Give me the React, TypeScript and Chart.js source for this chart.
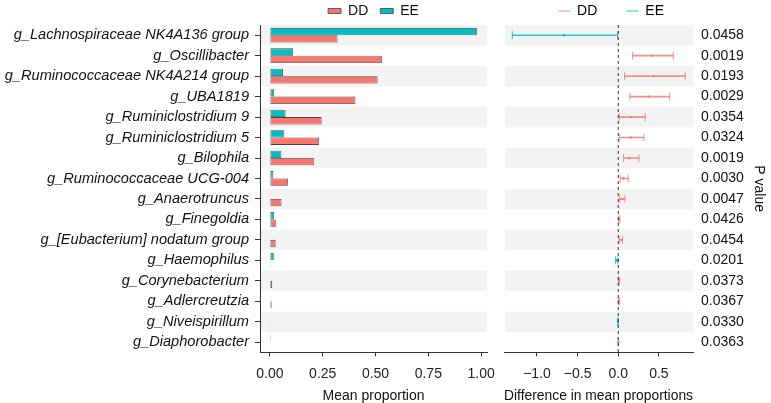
import React, { useEffect, useRef } from "react";
import { Chart, registerables } from "chart.js";

Chart.register(...registerables);

const categories = [
  "g_Lachnospiraceae NK4A136 group",
  "g_Oscillibacter",
  "g_Ruminococcaceae NK4A214 group",
  "g_UBA1819",
  "g_Ruminiclostridium 9",
  "g_Ruminiclostridium 5",
  "g_Bilophila",
  "g_Ruminococcaceae UCG-004",
  "g_Anaerotruncus",
  "g_Finegoldia",
  "g_[Eubacterium] nodatum group",
  "g_Haemophilus",
  "g_Corynebacterium",
  "g_Adlercreutzia",
  "g_Niveispirillum",
  "g_Diaphorobacter",
];

const ddMean = [0.32, 0.53, 0.51, 0.405, 0.245, 0.232, 0.21, 0.085, 0.055, 0.03, 0.027, 0.001, 0.011, 0.008, 0.001, 0.0015];
const eeMean = [0.98, 0.11, 0.062, 0.02, 0.074, 0.068, 0.054, 0.016, 0.003, 0.02, 0.002, 0.018, 0.002, 0.001, 0.002, 0.0005];

const diffMean = [-0.668, 0.41, 0.435, 0.374, 0.156, 0.152, 0.136, 0.062, 0.05, 0.01, 0.028, -0.017, 0.009, 0.007, -0.004, 0.001];
const diffLow = [-1.304, 0.177, 0.078, 0.144, 0.012, 0.012, 0.066, 0.025, 0.017, 0.002, 0.012, -0.032, 0.002, 0.001, -0.008, 0.0002];
const diffHigh = [-0.007, 0.677, 0.824, 0.632, 0.332, 0.316, 0.255, 0.123, 0.082, 0.02, 0.054, -0.004, 0.017, 0.014, -0.001, 0.002];

const pValues = ["0.0458", "0.0019", "0.0193", "0.0029", "0.0354", "0.0324", "0.0019", "0.0030", "0.0047", "0.0426", "0.0454", "0.0201", "0.0373", "0.0367", "0.0330", "0.0363"];

const leftTicks = [0, 0.25, 0.5, 0.75, 1.0];
const rightTicks = [-1.0, -0.5, 0.0, 0.5];

const DD_COLOR = "#F8766D";
const EE_COLOR = "#00BFC4";
const DD_LINE = "rgba(248,118,109,0.8)";
const EE_LINE = "rgba(0,191,196,0.85)";
const STRIPE = "#f3f3f3";
const FONT = "'Liberation Sans', Arial, Helvetica, sans-serif";

const stripePlugin = {
  id: "stripes",
  beforeDatasetsDraw(chart: any) {
    const { ctx, chartArea } = chart;
    const y = chart.scales.y;
    const n = y.getLabels().length;
    const band = (y.bottom - y.top) / n;
    ctx.save();
    ctx.fillStyle = STRIPE;
    for (let i = 0; i < n; i += 2) {
      const c = y.getPixelForValue(i);
      ctx.fillRect(chartArea.left + 1, c - band / 2, chartArea.right - chartArea.left - 1, band);
    }
    ctx.restore();
  },
};

const zeroLinePlugin = {
  id: "zeroLine",
  afterDatasetsDraw(chart: any) {
    const { ctx, chartArea } = chart;
    const x0 = chart.scales.x.getPixelForValue(0);
    ctx.save();
    ctx.strokeStyle = "#333";
    ctx.lineWidth = 1;
    ctx.setLineDash([3, 3]);
    ctx.beginPath();
    ctx.moveTo(x0, chartArea.top);
    ctx.lineTo(x0, chartArea.bottom);
    ctx.stroke();
    ctx.restore();
  },
};

function fmtSigned(v: number) {
  return v < 0 ? "\u2212" + Math.abs(v).toFixed(1) : v.toFixed(1);
}

export default function App() {
  const leftRef = useRef<HTMLCanvasElement>(null);
  const rightRef = useRef<HTMLCanvasElement>(null);

  useEffect(() => {
    const tickFont = { family: FONT, size: 14 };
    const xTitleFont = { family: FONT, size: 14 };
    const legendFont = { family: FONT, size: 14 };
    const noSidePad = (s: any) => {
      s.paddingLeft = 0;
      s.paddingRight = 0;
    };

    const left = new Chart(leftRef.current!, {
      type: "bar",
      data: {
        labels: categories,
        datasets: [
          {
            label: "EE",
            data: eeMean,
            backgroundColor: EE_COLOR,
            borderColor: "#444",
            borderWidth: 0.8,
            borderSkipped: false,
          },
          {
            label: "DD",
            data: ddMean,
            backgroundColor: DD_COLOR,
            borderColor: "#444",
            borderWidth: 0.8,
            borderSkipped: false,
          },
        ],
      },
      options: {
        indexAxis: "y",
        animation: false,
        responsive: false,
        devicePixelRatio: 1,
        layout: { padding: { left: 4, right: 8, top: -8, bottom: -2 } },
        datasets: { bar: { categoryPercentage: 0.72, barPercentage: 1.0 } },
        scales: {
          x: {
            type: "linear",
            min: -0.047,
            max: 1.028,
            afterBuildTicks: (s: any) => {
              s.ticks = leftTicks.map((v) => ({ value: v }));
            },
            afterFit: noSidePad,
            ticks: {
              font: tickFont,
              color: "#222",
              padding: 9,
              autoSkip: false,
              maxRotation: 0,
              callback: (v: any) => Number(v).toFixed(2),
            },
            grid: { drawOnChartArea: false, drawTicks: true, tickLength: 4, color: "#333" },
            border: { display: true, color: "#333", width: 1 },
            title: { display: true, text: "Mean proportion", font: xTitleFont, color: "#111", padding: { top: -3, bottom: 0 } },
          },
          y: {
            type: "category",
            offset: true,
            afterFit: (s: any) => {
              s.width = 256;
            },
            ticks: { font: { family: FONT, size: 14.6, style: "italic" }, color: "#111", padding: 6, autoSkip: false },
            grid: { offset: false, drawOnChartArea: false, drawTicks: true, tickLength: 5, color: "#333" },
            border: { display: true, color: "#333", width: 1 },
          },
        },
        plugins: {
          legend: {
            display: true,
            position: "top",
            fullSize: false,
            reverse: true,
            maxHeight: 33,
            labels: { font: legendFont, color: "#111", boxWidth: 13, boxHeight: 5, padding: 12 },
          },
          tooltip: { enabled: false },
        },
      } as any,
      plugins: [stripePlugin],
    });

    const isDD = (i: number) => diffMean[i] >= 0;
    const ciDD = diffMean.map((_, i) => (isDD(i) ? [diffLow[i], diffHigh[i]] : null));
    const ciEE = diffMean.map((_, i) => (!isDD(i) ? [diffLow[i], diffHigh[i]] : null));
    const capsDD: any[] = [];
    const capsEE: any[] = [];
    const ctrDD: any[] = [];
    const ctrEE: any[] = [];
    categories.forEach((c, i) => {
      const caps = isDD(i) ? capsDD : capsEE;
      const ctr = isDD(i) ? ctrDD : ctrEE;
      caps.push({ x: diffLow[i], y: c }, { x: diffHigh[i], y: c });
      ctr.push({ x: diffMean[i], y: c });
    });

    const capStyle = (color: string) => ({
      type: "scatter",
      pointStyle: "line",
      rotation: 90,
      radius: 4,
      borderColor: color,
      backgroundColor: color,
      borderWidth: 1,
      xAxisID: "x",
      yAxisID: "y",
    });
    const ctrStyle = (color: string) => ({
      type: "scatter",
      pointStyle: "circle",
      radius: 1.2,
      borderWidth: 0,
      backgroundColor: color,
      borderColor: color,
      xAxisID: "x",
      yAxisID: "y",
    });

    const right = new Chart(rightRef.current!, {
      type: "bar",
      data: {
        labels: categories,
        datasets: [
          { label: "DD", data: ciDD, backgroundColor: DD_LINE, barThickness: 1, grouped: false, borderWidth: 0, xAxisID: "x", yAxisID: "y" },
          { label: "EE", data: ciEE, backgroundColor: EE_LINE, barThickness: 1, grouped: false, borderWidth: 0, xAxisID: "x", yAxisID: "y" },
          { label: "DDcap", data: capsDD, ...capStyle(DD_LINE) },
          { label: "EEcap", data: capsEE, ...capStyle(EE_LINE) },
          { label: "DDctr", data: ctrDD, ...ctrStyle(DD_COLOR) },
          { label: "EEctr", data: ctrEE, ...ctrStyle(EE_COLOR) },
        ] as any,
      },
      options: {
        indexAxis: "y",
        animation: false,
        responsive: false,
        devicePixelRatio: 1,
        layout: { padding: { left: 9, right: 0, top: -25, bottom: -2 } },
        scales: {
          x: {
            type: "linear",
            min: -1.406,
            max: 0.92,
            afterBuildTicks: (s: any) => {
              s.ticks = rightTicks.map((v) => ({ value: v }));
            },
            afterFit: noSidePad,
            ticks: { font: tickFont, color: "#222", padding: 9, autoSkip: false, maxRotation: 0, callback: (v: any) => fmtSigned(Number(v)) },
            grid: { drawOnChartArea: false, drawTicks: true, tickLength: 4, color: "#333" },
            border: { display: true, color: "#333", width: 1 },
            title: { display: true, text: "Difference in mean proportions", font: xTitleFont, color: "#111", padding: { top: -3, bottom: 0 } },
          },
          y: {
            type: "category",
            offset: true,
            display: false,
          },
          yp: {
            type: "category",
            position: "right",
            labels: pValues,
            offset: true,
            afterFit: (s: any) => {
              s.width = 78;
            },
            ticks: { font: { family: FONT, size: 14 }, color: "#111", padding: 8, autoSkip: false },
            grid: { display: false, drawTicks: false },
            border: { display: false },
            title: { display: true, text: "P value", font: { family: FONT, size: 14 }, color: "#111", padding: { top: 3.5, bottom: 0 } },
          },
        },
        plugins: {
          legend: {
            display: true,
            position: "top",
            fullSize: false,
            align: "end",
            maxHeight: 50,
            labels: {
              font: legendFont,
              color: "#111",
              usePointStyle: true,
              pointStyleWidth: 12,
              padding: 29,
              generateLabels: () => [
                { text: "DD", fillStyle: DD_LINE, strokeStyle: DD_LINE, lineWidth: 1, pointStyle: "line", datasetIndex: 0, hidden: false },
                { text: "EE", fillStyle: EE_LINE, strokeStyle: EE_LINE, lineWidth: 1, pointStyle: "line", datasetIndex: 1, hidden: false },
              ],
            },
          },
          tooltip: { enabled: false },
        },
      } as any,
      plugins: [stripePlugin, zeroLinePlugin],
    });

    return () => {
      left.destroy();
      right.destroy();
    };
  }, []);

  return (
    <div style={{ position: "fixed", left: 0, top: 0, width: 771, height: 403, background: "#fff" }}>
      <canvas ref={leftRef} width={495} height={403} style={{ position: "absolute", left: 0, top: 0, width: 495, height: 403 }} />
      <canvas ref={rightRef} width={276} height={403} style={{ position: "absolute", left: 495, top: 0, width: 276, height: 403 }} />
    </div>
  );
}
